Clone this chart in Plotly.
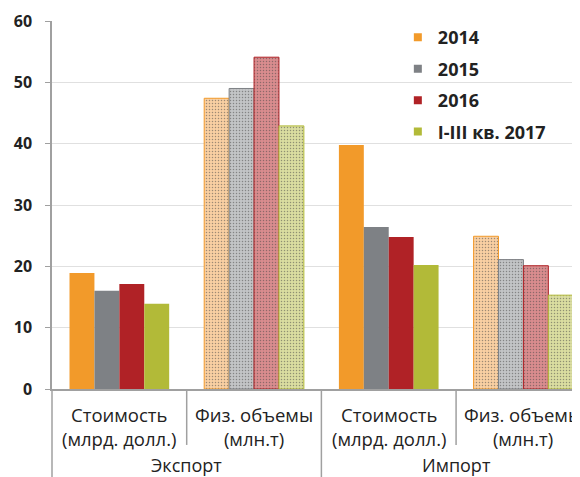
import plotly.graph_objects as go

# data
group_names = ["Стоимость", "Физ. объемы", "Стоимость", "Физ. объемы"]
group_units = ["(млрд. долл.)", "(млн.т)", "(млрд. долл.)", "(млн.т)"]
sections = ["Экспорт", "Импорт"]
section_pos = [0.5, 2.5]
years = ["2014", "2015", "2016", "I-III кв. 2017"]

v2014 = [18.9, 47.4, 39.8, 24.9]
v2015 = [16.0, 49.0, 26.4, 21.1]
v2016 = [17.1, 54.1, 24.8, 20.1]
v2017 = [13.9, 42.9, 20.2, 15.3]

is_volume = [False, True, False, True]

COLORS = ["#F29A2A", "#7E8185", "#B02226", "#B2BA38"]
LIGHT = ["#F9CFA2", "#C2C4C6", "#D98C8E", "#DADDA0"]
AXIS = "#A0A0A0"
TEXT = "#222222"
FONT = "Open Sans, DejaVu Sans, sans-serif"

fig = go.Figure()
x = list(range(len(group_names)))

for i, (name, vals) in enumerate(zip(years, [v2014, v2015, v2016, v2017])):
    fig.add_trace(
        go.Bar(
            x=x,
            y=vals,
            name=name,
            showlegend=False,
            marker={
                "color": [LIGHT[i] if v else COLORS[i] for v in is_volume],
                "line": {"color": COLORS[i], "width": [1 if v else 0 for v in is_volume]},
                "pattern": {
                    "shape": ["." if v else "" for v in is_volume],
                    "fgcolor": COLORS[i],
                    "bgcolor": LIGHT[i],
                    "size": 3,
                    "solidity": 0.2,
                },
            },
        )
    )
    # legend entry with a small square
    fig.add_trace(
        go.Scatter(
            x=[None],
            y=[None],
            mode="markers",
            name=name,
            legendgroup=name,
            marker={"symbol": "square", "size": 8, "color": COLORS[i]},
        )
    )

# separators below the x axis
for xs, low in [(0.5, -0.152), (1.5, -0.24), (2.5, -0.152)]:
    fig.add_shape(
        type="line", xref="x", yref="paper", x0=xs, x1=xs, y0=0, y1=low,
        line={"color": AXIS, "width": 1.5},
    )
fig.add_shape(
    type="line", xref="paper", yref="paper", x0=0, x1=0, y0=0, y1=-0.24,
    line={"color": AXIS, "width": 1.5},
)

# category labels (two lines each) and section labels
for xs, top, bottom in zip(x, group_names, group_units):
    fig.add_annotation(
        x=xs, y=-0.103, xref="x", yref="paper", text=f"{top}<br>{bottom}",
        showarrow=False, yanchor="middle", borderpad=0,
        font={"size": 18.5, "color": TEXT, "family": FONT},
    )

for xs, label in zip(section_pos, sections):
    fig.add_annotation(
        x=xs, y=-0.206, xref="x", yref="paper", text=label, showarrow=False,
        yanchor="middle", borderpad=0,
        font={"size": 18, "color": TEXT, "family": FONT},
    )

fig.update_layout(
    width=572,
    height=469,
    margin={"l": 44, "r": 0, "t": 13, "b": 88},
    paper_bgcolor="white",
    plot_bgcolor="white",
    barmode="group",
    bargap=0.26,
    bargroupgap=0,
    font={"family": FONT, "color": TEXT},
    legend={
        "x": 0.655, "y": 1.005, "xanchor": "left", "yanchor": "top",
        "bgcolor": "rgba(0,0,0,0)",
        "font": {"size": 18, "color": TEXT, "family": FONT, "weight": "bold"},
        "tracegroupgap": 5,
        "itemwidth": 30,
    },
    xaxis={
        "range": [-0.5, 3.42],
        "tickvals": x,
        "showticklabels": False,
        "showline": True,
        "linecolor": AXIS,
        "linewidth": 1.5,
        "ticks": "",
        "showgrid": False,
        "zeroline": False,
    },
    yaxis={
        "range": [0, 60],
        "dtick": 10,
        "showline": True,
        "linecolor": AXIS,
        "linewidth": 1.5,
        "ticks": "outside",
        "ticklen": 5,
        "tickcolor": AXIS,
        "ticklabelstandoff": 10,
        "showgrid": True,
        "gridcolor": "#E0E0E0",
        "gridwidth": 1,
        "zeroline": False,
        "tickfont": {"size": 16, "color": TEXT, "family": FONT, "weight": "bold"},
    },
)

fig.write_html("out.html")
